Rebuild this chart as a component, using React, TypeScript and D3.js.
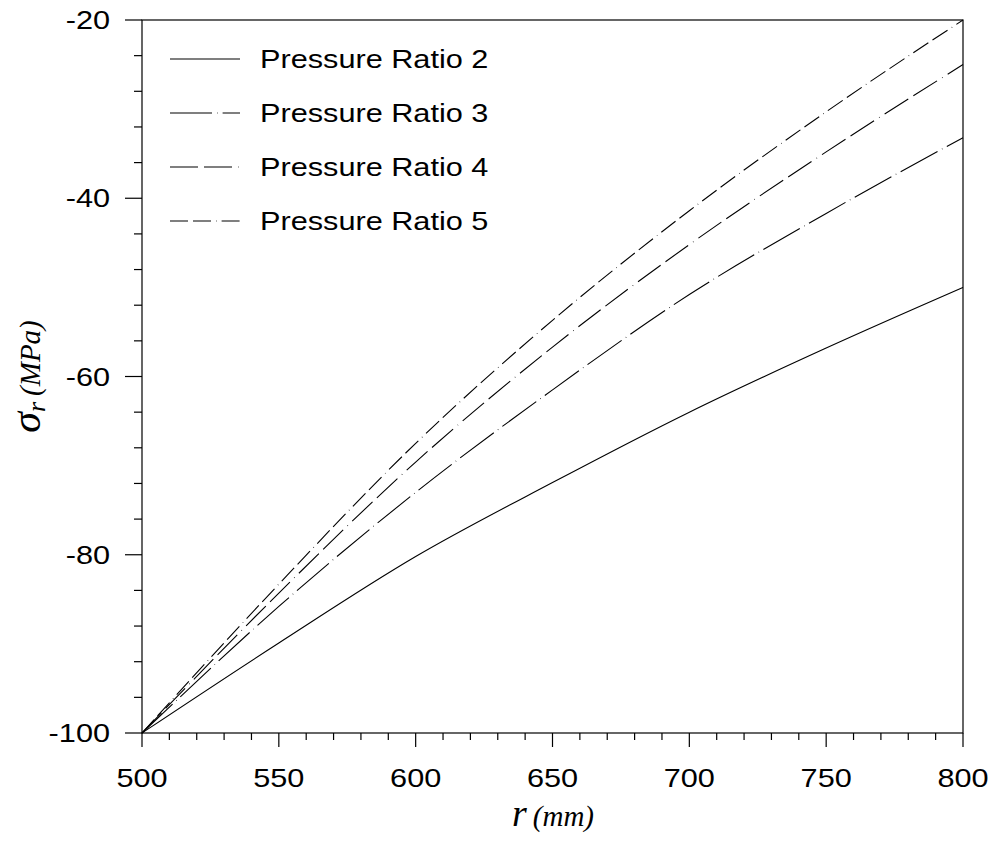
import React from 'react';
import * as d3 from 'd3';

// radius (mm) and radial stress (MPa)
const radii = [500, 550, 600, 650, 700, 750, 800];
const ratio2 = [-100, -89.9, -80.2, -71.9, -64.0, -56.8, -50.0];
const ratio3 = [-100, -85.8, -73.0, -61.5, -50.8, -41.7, -33.2];
const ratio4 = [-100, -84.3, -69.6, -56.7, -45.2, -34.8, -25.0];
const ratio5 = [-100, -83.3, -67.5, -53.7, -41.4, -30.3, -20.0];

const seriesNames = ['Pressure Ratio 2', 'Pressure Ratio 3', 'Pressure Ratio 4', 'Pressure Ratio 5'];
const dashes = ['none', '42 5 0.6 5', '28 6 28 6 0.6 6', '18 5 18 5 0.6 5'];

const xTicks = [500, 550, 600, 650, 700, 750, 800];
const yTicks = [-100, -80, -60, -40, -20];

const W = 992, H = 853;
const left = 142, right = 963, top = 20, bottom = 733;
const SX = 1.18; // the source text is a bit stretched sideways
const FONT = 'Liberation Sans, Arial, sans-serif';
const SERIF = 'Liberation Serif, Times New Roman, serif';

function Label(props: { x: number; y: number; anchor?: string; size?: number; children: any }) {
  const { x, y, anchor = 'start', size = 26, children } = props;
  return (
    <text transform={`translate(${x},${y}) scale(${SX},1)`} textAnchor={anchor}
      fontFamily={FONT} fontSize={size} fill="#000">{children}</text>
  );
}

export default function App() {
  const x = d3.scaleLinear().domain([500, 800]).range([left, right]);
  const y = d3.scaleLinear().domain([-100, -20]).range([bottom, top]);

  const series = [ratio2, ratio3, ratio4, ratio5];
  const line = d3.line<number>()
    .x((_, i) => x(radii[i]))
    .y(d => y(d))
    .curve(d3.curveMonotoneX);

  const xMinor = d3.range(500, 801, 10).filter(v => v % 50 !== 0);
  const yMinor = d3.range(-100, -19, 4).filter(v => v % 20 !== 0);

  return (
    <svg width={W} height={H} style={{ position: 'absolute', left: 0, top: 0 }}>
      <rect width={W} height={H} fill="#fff" />
      <g stroke="#000" strokeWidth={1.2} fill="none">
        <rect x={left} y={top} width={right - left} height={bottom - top} />
        {xTicks.map(v => <line key={'xt' + v} x1={x(v)} x2={x(v)} y1={bottom} y2={bottom + 14} />)}
        {xMinor.map(v => <line key={'xm' + v} x1={x(v)} x2={x(v)} y1={bottom} y2={bottom + 7} />)}
        {yTicks.map(v => <line key={'yt' + v} x1={left - 17} x2={left} y1={y(v)} y2={y(v)} />)}
        {yMinor.map(v => <line key={'ym' + v} x1={left - 8} x2={left} y1={y(v)} y2={y(v)} />)}
      </g>
      {xTicks.map(v => <Label key={'xl' + v} x={x(v)} y={787} anchor="middle">{v}</Label>)}
      {yTicks.map(v => <Label key={'yl' + v} x={110} y={y(v) + 9} anchor="end">{v}</Label>)}

      <g fill="none" stroke="#000" strokeWidth={1.1}>
        {series.map((s, i) => (
          <path key={'s' + i} d={line(s) || ''} strokeDasharray={dashes[i]} />
        ))}
      </g>

      {seriesNames.map((name, i) => {
        const ly = 59 + i * 54;
        return (
          <g key={'lg' + i}>
            <line x1={170} x2={240} y1={ly} y2={ly} stroke="#000" strokeWidth={1.1}
              strokeDasharray={dashes[i]} />
            <Label x={260} y={ly + 9}>{name}</Label>
          </g>
        );
      })}

      <text x={553} y={826} textAnchor="middle" fontFamily={SERIF} fontStyle="italic" fill="#000">
        <tspan fontSize={38}>r</tspan>
        <tspan fontSize={29} dx={6}>(mm)</tspan>
      </text>
      <text transform={`translate(40,${y(-60)}) rotate(-90)`} textAnchor="middle"
        fontFamily={SERIF} fontStyle="italic" fill="#000">
        <tspan fontSize={42}>σ</tspan>
        <tspan fontSize={26} dy={5}>r</tspan>
        <tspan fontSize={29} dy={-5} dx={6}>(MPa)</tspan>
      </text>
    </svg>
  );
}
